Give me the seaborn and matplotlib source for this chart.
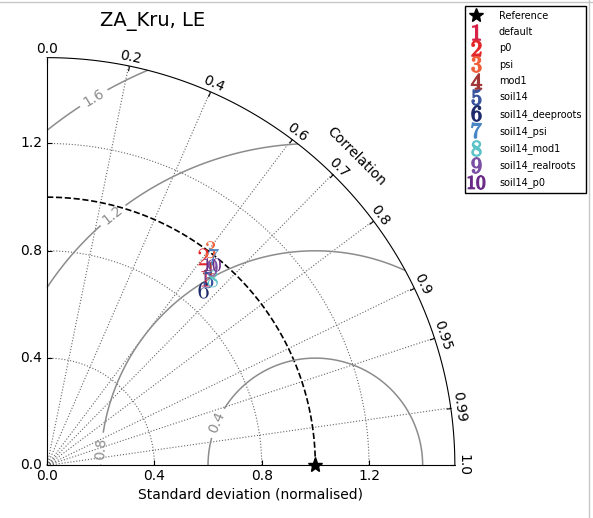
import numpy as np
import seaborn as sns
import matplotlib
matplotlib.use("Agg")
import matplotlib.pyplot as plt
from matplotlib.lines import Line2D
from matplotlib.projections import PolarAxes
import mpl_toolkits.axisartist.floating_axes as FA
import mpl_toolkits.axisartist.grid_finder as GF

# model runs, normalised std and correlation
names = ["default", "p0", "psi", "mod1", "soil14", "soil14_deeproots",
         "soil14_psi", "soil14_mod1", "soil14_realroots", "soil14_p0"]
stddev = [0.915, 0.972, 1.009, 0.945, 0.917, 0.876, 0.995, 0.930, 0.961, 0.969]
corrcoef = [0.646, 0.600, 0.604, 0.637, 0.656, 0.666, 0.624, 0.664, 0.642, 0.636]
colours = ["#d7234a", "#e3262a", "#f0603a", "#a33636", "#3a559e",
           "#1e2b6a", "#4a86c5", "#5cc3c9", "#7a4fa3", "#6a2b88"]

ref_std = 1.0
corr_ticks = [0.0, 0.2, 0.4, 0.6, 0.7, 0.8, 0.9, 0.95, 0.99, 1.0]
std_ticks = [0.0, 0.4, 0.8, 1.2]
rms_levels = [0.4, 0.8, 1.2, 1.6]
smax = 1.52

sns.set_style("ticks")
plt.rcParams["font.family"] = ["DejaVu Sans"]
plt.rcParams["mathtext.fontset"] = "cm"
plt.rcParams["text.color"] = "black"
plt.rcParams["xtick.color"] = "black"
plt.rcParams["ytick.color"] = "black"
plt.rcParams["axes.edgecolor"] = "black"
plt.rcParams["axes.labelcolor"] = "black"
plt.rcParams["grid.color"] = "0.4"
plt.rcParams["grid.linestyle"] = ":"
plt.rcParams["grid.linewidth"] = 0.8
plt.rcParams["font.size"] = 10

fig = plt.figure(figsize=(5.93, 5.18), dpi=100)

tr = PolarAxes.PolarTransform(apply_theta_transforms=False)
tlocs = np.arccos(corr_ticks)
gl1 = GF.FixedLocator(tlocs)
tf1 = GF.DictFormatter(dict(zip(tlocs, [str(c) for c in corr_ticks])))
gl2 = GF.FixedLocator(std_ticks)
tf2 = GF.DictFormatter(dict(zip(std_ticks, [str(s) for s in std_ticks])))
ghelper = FA.GridHelperCurveLinear(tr, extremes=(0, np.pi / 2, 0, smax),
                                   grid_locator1=gl1, tick_formatter1=tf1,
                                   grid_locator2=gl2, tick_formatter2=tf2)

ax = FA.FloatingAxes(fig, [0.0717, 0.0936, 0.703, 0.803], grid_helper=ghelper)
fig.add_axes(ax)

ax.axis["top"].set_axis_direction("bottom")
ax.axis["top"].toggle(ticklabels=True, label=True)
ax.axis["top"].major_ticklabels.set_axis_direction("top")
ax.axis["top"].label.set_axis_direction("top")
ax.axis["top"].label.set_text("Correlation")

ax.axis["left"].set_axis_direction("bottom")
ax.axis["left"].label.set_text("Standard deviation (normalised)")

ax.axis["right"].set_axis_direction("top")
ax.axis["right"].toggle(ticklabels=True)
ax.axis["right"].major_ticklabels.set_axis_direction("left")

ax.axis["bottom"].set_visible(False)
ax.grid(True)

aux = ax.get_aux_axes(tr)

# reference std arc and point
t = np.linspace(0, np.pi / 2, 200)
aux.plot(t, np.full_like(t, ref_std), "k--", lw=1.2)
aux.plot([0], [ref_std], "k*", ms=11, clip_on=False, zorder=5)

# centred RMS difference contours
rs, ts = np.meshgrid(np.linspace(0, smax, 200), np.linspace(0, np.pi / 2, 200))
rms = np.sqrt(ref_std ** 2 + rs ** 2 - 2 * ref_std * rs * np.cos(ts))
cs = aux.contour(ts, rs, rms, levels=rms_levels, colors="0.55", linewidths=1.1)
label_pos = [(0.251, 0.648), (0.323, 0.201), (1.316, 0.966), (1.446, 1.383)]
aux.clabel(cs, inline=True, fontsize=10, fmt="%.1f", manual=label_pos)

theta = np.arccos(corrcoef)
markers = {n: f"${i + 1}$" for i, n in enumerate(names)}
palette = dict(zip(names, colours))
sns.scatterplot(x=theta, y=stddev, hue=names, style=names, markers=markers,
                palette=palette, s=150, linewidth=0, legend=False, ax=aux,
                zorder=6)

handles = [Line2D([], [], marker="*", color="k", ls="none", ms=10, label="Reference")]
for i, n in enumerate(names):
    handles.append(Line2D([], [], marker=f"${i + 1}$", color=colours[i], ls="none",
                          ms=11 if i < 9 else 12, label=n))
leg = fig.legend(handles=handles, loc="upper right", bbox_to_anchor=(0.997, 0.998),
                 fontsize=7, numpoints=1, handlelength=1.2, handletextpad=1.8,
                 labelspacing=0.65, borderpad=0.5, fancybox=False, framealpha=1)
leg.get_frame().set_edgecolor("black")

fig.text(0.257, 0.958, "ZA_Kru, LE", ha="center", va="center", fontsize=14)

# faint frame of the original screenshot
fig.add_artist(Line2D([0, 1], [0.996, 0.996], color="0.78", lw=1))
fig.add_artist(Line2D([0.993, 0.993], [0, 1], color="0.78", lw=1))

fig.savefig("out.png", dpi=100)
